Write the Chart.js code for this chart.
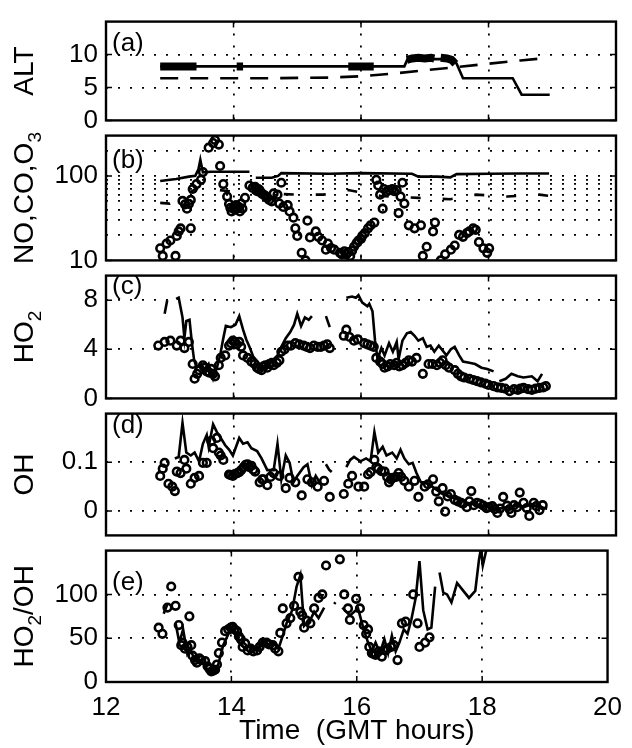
<!DOCTYPE html>
<html>
<head>
<meta charset="utf-8">
<script src="https://cdn.jsdelivr.net/npm/chart.js@4.4.0/dist/chart.umd.min.js"></script>
<style>
body { margin: 0; background: #fff; }
#wrap { position: relative; width: 632px; height: 748px; }
canvas { position: absolute; left: 0; }
</style>
</head>
<body>
<div id="wrap">
  <canvas id="pa"></canvas>
  <canvas id="pb"></canvas>
  <canvas id="pc"></canvas>
  <canvas id="pd"></canvas>
  <canvas id="pe"></canvas>
</div>
<script>
// time axis (GMT hours)
const xTicks = [12, 14, 16, 18, 20];

// (a) altitude, [time, km]
const altSolid = [[12.85, 8.2], [16.68, 8.2], [16.73, 9.3], [17.45, 9.3], [17.5, 8.6], [17.6, 6.4],
  [18.38, 6.4], [18.52, 3.9], [18.96, 3.9]];
const altThick = [[12.85, 8.2], [13.42, 8.2], [null, null], [14.05, 8.2], [14.15, 8.2], [null, null],
  [15.8, 8.2], [16.2, 8.2], [null, null], [16.72, 9.2], [16.8, 9.4], [16.9, 9.5], [17.0, 9.4], [17.1, 9.5],
  [17.15, 9.4], [null, null], [17.25, 9.5], [17.35, 9.4], [17.42, 9.2], [17.48, 8.6]];
const altDashed = [[12.85, 6.4], [13.5, 6.4], [14.5, 6.4], [15.5, 6.5], [16.0, 6.7], [16.5, 7.1],
  [17.0, 7.6], [17.5, 8.1], [18.0, 8.6], [18.5, 9.1], [18.95, 9.5]];
const altTicks = [0, 5, 10];

// (b) NO, CO, O3
const o3Line = [[12.85, 87], [13.1, 92], [13.3, 98], [13.4, 100], [13.45, 120], [13.48, 155], [13.52, 110],
  [13.65, 112], [14.25, 112], [null, null], [14.35, 95], [14.6, 95], [14.7, 100], [14.75, 108], [15.5, 106],
  [16.0, 108], [16.8, 106], [16.9, 98], [17.2, 98], [17.4, 96], [17.5, 105], [18.0, 106], [18.5, 107], [18.95, 107]];
const coLine = [[12.85, 48], [13.0, 47], [13.2, 55], [13.4, 70], [13.5, 72], [14.0, 65], [14.5, 62], [15.0, 60],
  [15.4, 60], [15.6, 62], [15.8, 68], [16.3, 58], [16.9, 55], [17.4, 53], [17.8, 60], [18.3, 57], [18.8, 60], [18.95, 58]];
const noPts = [[12.85, 13.9], [12.89, 11.3], [12.95, 15.8], [13.01, 17.2], [13.09, 11.3], [13.11, 19.5],
  [13.14, 22], [13.17, 23.9], [13.33, 24], [13.2, 50.6], [13.24, 46], [13.27, 41], [13.3, 46.6], [13.33, 52],
  [13.36, 70], [13.42, 80], [13.49, 90], [13.52, 111], [13.61, 216], [13.68, 245], [13.71, 266], [13.77, 235],
  [13.79, 131], [13.84, 80], [13.9, 57], [13.93, 46.6], [13.95, 42], [13.97, 38], [14.0, 43], [14.02, 40],
  [14.04, 45], [14.06, 41], [14.08, 43], [14.1, 38], [14.12, 47], [14.14, 41], [14.18, 55], [14.25, 77],
  [14.3, 72], [14.34, 74], [14.37, 66], [14.39, 70], [14.41, 68], [14.44, 62], [14.47, 60], [14.5, 58],
  [14.53, 55], [14.56, 52], [14.6, 50], [14.63, 62], [14.69, 60], [14.72, 47], [14.75, 83], [14.78, 43],
  [14.85, 45], [14.88, 38], [14.94, 32], [14.97, 24], [15.0, 19.5], [15.07, 12.3], [15.13, 10], [15.16, 29.5],
  [15.2, 18.7], [15.29, 22], [15.33, 19], [15.39, 17.2], [15.45, 13.4], [15.48, 15.8], [15.53, 14], [15.58, 13.4],
  [15.67, 12.3], [15.7, 11.8], [15.74, 12.8], [15.77, 11.8], [15.8, 12.5], [15.83, 11.3], [15.86, 13],
  [15.89, 14.5], [15.93, 16], [15.96, 17.2], [16.0, 18], [16.02, 19.5], [16.06, 21], [16.11, 24], [16.15, 26],
  [16.21, 28], [16.24, 90], [16.27, 77], [16.3, 60], [16.34, 41], [16.36, 70], [16.4, 65], [16.44, 68],
  [16.49, 70], [16.52, 66], [16.56, 68], [16.62, 57], [16.65, 83], [16.68, 47], [16.59, 36.3], [16.75, 26],
  [16.84, 24], [16.94, 26], [16.97, 11.3], [17.03, 14.5], [17.13, 22], [17.16, 28], [17.25, 10], [17.32, 11.8],
  [17.41, 13.4], [17.47, 15], [17.54, 20], [17.6, 19], [17.66, 21], [17.7, 22], [17.76, 24], [17.8, 23],
  [17.85, 16.5], [17.92, 13.9], [17.98, 12.3], [18.01, 13.9]];
const logGridTicks = [10, 20, 30, 40, 50, 60, 70, 80, 90, 100, 200];
const logLabelTicks = [10, 100];

// (c) HO2
const ho2Model = [[12.92, 6.9], [12.96, 8.0], [null, null], [13.1, 8.1], [13.14, 8.2], [13.2, 6.6], [13.23, 4.9],
  [13.26, 6.3], [13.31, 6.4], [13.35, 4.4], [13.38, 3.2], [13.42, 2.5], [13.49, 2.8], [13.55, 2.3], [13.61, 2.8],
  [13.68, 1.6], [13.74, 2.5], [13.79, 3.5], [13.84, 4.9], [13.88, 5.9], [13.96, 5.8], [14.03, 6.0], [14.09, 6.7],
  [14.15, 5.6], [14.2, 4.8], [14.25, 4.2], [14.31, 3.4], [14.41, 2.8], [14.5, 2.5], [14.59, 3.0], [14.69, 3.5],
  [14.75, 4.2], [14.82, 4.9], [14.89, 5.4], [14.95, 6.0], [15.0, 6.9], [15.06, 5.9], [15.12, 6.6], [15.18, 6.4],
  [15.23, 6.7], [null, null], [15.45, 6.7], [15.51, 5.8], [null, null], [15.77, 8.2], [15.86, 8.3], [15.92, 8.2],
  [15.96, 8.4], [16.02, 7.8], [16.1, 7.5], [16.13, 7.7], [16.18, 7.1], [16.22, 4.7], [16.26, 3.2], [16.32, 4.1],
  [16.37, 3.5], [16.44, 4.5], [16.5, 3.8], [16.56, 4.6], [16.59, 3.2], [16.65, 4.7], [16.72, 5.3], [16.78, 5.4],
  [16.84, 5.1], [16.9, 4.7], [16.97, 4.9], [17.03, 4.2], [17.09, 4.3], [17.15, 3.8], [17.22, 4.3], [17.28, 3.9],
  [17.34, 3.5], [17.41, 4.0], [17.47, 4.2], [17.54, 3.5], [17.6, 3.0], [17.7, 2.9], [17.79, 2.8], [17.89, 2.5],
  [17.98, 2.4], [18.08, 2.2], [null, null], [18.17, 1.4], [18.27, 1.6], [18.36, 2.0], [18.46, 1.8], [18.55, 1.7],
  [18.68, 1.8], [18.77, 1.4], [18.84, 2.0]];
const ho2Obs = [[12.82, 4.3], [12.92, 4.6], [13.01, 4.7], [13.11, 4.3], [13.17, 4.7], [13.23, 4.1], [13.3, 4.6],
  [13.36, 2.8], [13.39, 1.6], [13.43, 2.0], [13.46, 2.3], [13.52, 2.7], [13.55, 2.5], [13.58, 2.2], [13.62, 2.1],
  [13.65, 2.4], [13.68, 2.0], [13.71, 1.8], [13.77, 2.7], [13.8, 3.3], [13.87, 3.5], [13.93, 4.3], [13.96, 4.5],
  [13.99, 4.7], [14.02, 4.6], [14.05, 4.4], [14.09, 4.6], [14.12, 4.2], [14.15, 3.5], [14.22, 3.3], [14.28, 3.0],
  [14.33, 2.8], [14.37, 2.5], [14.4, 2.4], [14.44, 2.3], [14.47, 2.6], [14.5, 2.7], [14.53, 2.5], [14.56, 2.8],
  [14.6, 2.9], [14.63, 2.7], [14.68, 2.9], [14.72, 3.1], [14.75, 3.8], [14.8, 4.0], [14.85, 4.3], [14.9, 4.3],
  [14.97, 4.5], [15.03, 4.4], [15.1, 4.3], [15.15, 4.2], [15.2, 4.1], [15.26, 4.3], [15.32, 4.2], [15.37, 4.2],
  [15.42, 4.3], [15.47, 4.4], [15.51, 4.1], [15.73, 5.1], [15.77, 5.6], [15.82, 5.0], [15.89, 4.7], [15.95, 4.8],
  [16.05, 4.5], [16.1, 4.4], [16.15, 4.3], [16.2, 4.2], [16.24, 3.3], [16.3, 3.0], [16.34, 2.8], [16.37, 2.5],
  [16.42, 2.6], [16.46, 2.8], [16.52, 2.7], [16.56, 2.9], [16.6, 2.6], [16.65, 2.7], [16.7, 2.9], [16.75, 3.1],
  [16.8, 3.0], [16.87, 3.3], [16.97, 2.0], [17.06, 2.8], [17.12, 2.8], [17.19, 2.7], [17.24, 2.9], [17.28, 3.1],
  [17.33, 2.7], [17.38, 2.5], [17.47, 2.3], [17.52, 2.0], [17.57, 1.8], [17.62, 1.7], [17.7, 1.6], [17.76, 1.5],
  [17.82, 1.4], [17.88, 1.3], [17.95, 1.2], [18.0, 1.1], [18.08, 1.0], [18.14, 0.9], [18.2, 0.85], [18.26, 0.8],
  [18.33, 0.6], [18.4, 0.75], [18.46, 0.7], [18.5, 0.8], [18.55, 0.85], [18.62, 0.75], [18.68, 0.7], [18.74, 0.8],
  [18.8, 0.85], [18.86, 0.9], [18.9, 1.0]];
const ho2Ticks = [0, 4, 8];

// (d) OH
const ohModel = [[13.08, 0.108], [13.14, 0.111], [13.2, 0.181], [13.26, 0.12], [13.33, 0.114], [13.39, 0.12],
  [13.46, 0.102], [13.52, 0.138], [13.58, 0.156], [13.61, 0.132], [13.68, 0.178], [13.74, 0.162], [13.8, 0.15],
  [13.87, 0.135], [13.93, 0.126], [13.99, 0.114], [14.09, 0.15], [14.15, 0.138], [14.22, 0.141], [14.28, 0.129],
  [14.37, 0.123], [14.44, 0.108], [14.53, 0.084], [14.63, 0.084], [14.69, 0.138], [14.75, 0.065], [14.82, 0.114],
  [14.88, 0.099], [14.94, 0.059], [15.0, 0.072], [15.1, 0.09], [15.16, 0.096], [15.23, 0.053], [15.29, 0.072],
  [15.35, 0.059], [null, null], [15.45, 0.096], [15.5, 0.085], [15.54, 0.08], [null, null], [15.77, 0.09],
  [15.83, 0.105], [15.89, 0.111], [15.99, 0.102], [16.08, 0.108], [16.15, 0.102], [16.21, 0.162], [16.27, 0.12],
  [16.34, 0.132], [16.4, 0.114], [16.49, 0.12], [16.56, 0.108], [16.62, 0.126], [16.68, 0.108], [16.75, 0.096],
  [16.81, 0.099], [16.87, 0.078], [16.94, 0.059], [17.03, 0.059], [17.15, 0.047], [17.28, 0.035], [17.41, 0.029],
  [17.54, 0.023], [17.66, 0.017], [17.79, 0.014], [17.92, 0.011], [18.04, 0.008], [18.17, 0.005], [18.3, 0.008],
  [18.42, 0.011], [18.55, 0.008], [18.68, 0.014], [18.8, 0.008], [18.92, 0.005]];
const ohObs = [[12.85, 0.072], [12.89, 0.087], [12.92, 0.099], [12.98, 0.056], [13.04, 0.05], [13.08, 0.041],
  [13.11, 0.081], [13.17, 0.078], [13.23, 0.105], [13.26, 0.087], [13.33, 0.056], [13.39, 0.068], [13.46, 0.072],
  [13.52, 0.099], [13.58, 0.099], [13.65, 0.144], [13.68, 0.129], [13.74, 0.15], [13.77, 0.12], [13.8, 0.114],
  [13.84, 0.105], [13.93, 0.075], [13.95, 0.074], [13.99, 0.072], [14.02, 0.076], [14.06, 0.078], [14.09, 0.08],
  [14.12, 0.084], [14.16, 0.09], [14.19, 0.095], [14.22, 0.096], [14.25, 0.09], [14.28, 0.093], [14.31, 0.085],
  [14.34, 0.081], [14.41, 0.059], [14.45, 0.065], [14.47, 0.065], [14.53, 0.053], [14.58, 0.07], [14.63, 0.078],
  [14.72, 0.072], [14.82, 0.047], [14.88, 0.068], [14.97, 0.059], [15.07, 0.032], [15.16, 0.065], [15.23, 0.059],
  [15.32, 0.05], [15.42, 0.062], [15.51, 0.029], [15.73, 0.035], [15.8, 0.056], [15.86, 0.072], [15.96, 0.05],
  [16.05, 0.05], [16.11, 0.075], [16.15, 0.08], [16.21, 0.105], [16.24, 0.09], [16.27, 0.087], [16.32, 0.082],
  [16.37, 0.081], [16.41, 0.07], [16.44, 0.059], [16.47, 0.065], [16.5, 0.068], [16.55, 0.07], [16.59, 0.078],
  [16.63, 0.07], [16.68, 0.062], [16.75, 0.05], [16.84, 0.062], [16.9, 0.029], [17.0, 0.05], [17.05, 0.055],
  [17.13, 0.065], [17.18, 0.04], [17.22, 0.02], [17.28, 0.047], [17.32, -0.001], [17.36, 0.03], [17.41, 0.035],
  [17.47, 0.023], [17.52, 0.02], [17.57, 0.017], [17.6, 0.015], [17.66, 0.008], [17.7, 0.02], [17.73, 0.041],
  [17.77, 0.012], [17.82, 0.017], [17.87, 0.015], [17.92, 0.011], [17.97, 0.006], [18.01, 0.008], [18.06, 0.01],
  [18.1, 0.004], [18.14, -0.004], [18.18, 0.005], [18.23, 0.029], [18.29, 0.011], [18.33, 0.004], [18.36, -0.004],
  [18.4, 0.012], [18.45, 0.008], [18.49, 0.038], [18.55, 0.017], [18.6, 0.006], [18.64, -0.01], [18.71, 0.017],
  [18.75, 0.01], [18.8, 0.002], [18.85, 0.012]];
const ohTicks = [0, 0.1];

// (e) HO2/OH
const ratioModel = [[12.92, 78], [12.98, 89], [null, null], [13.11, 67], [13.17, 45], [13.23, 60], [13.3, 31],
  [13.36, 35], [13.42, 24], [13.52, 25], [13.61, 15], [13.71, 11], [13.79, 20], [13.87, 42], [13.96, 56],
  [14.06, 58], [14.12, 45], [14.22, 38], [14.31, 42], [14.41, 35], [14.5, 49], [14.59, 42], [14.69, 44],
  [14.75, 38], [14.82, 53], [14.88, 67], [14.97, 82], [15.04, 109], [15.1, 122], [15.16, 64], [15.26, 71],
  [15.32, 80], [15.39, 73], [15.48, 85], [null, null], [15.64, 89], [15.66, 91], [null, null], [15.77, 85],
  [15.89, 76], [16.02, 84], [16.11, 60], [16.18, 45], [16.24, 35], [16.3, 45], [16.37, 33], [16.44, 49],
  [16.5, 33], [16.56, 53], [16.62, 35], [16.68, 45], [16.75, 60], [16.81, 55], [16.87, 71], [16.94, 96],
  [17.0, 138], [17.06, 82], [17.13, 60], [17.19, 62], [17.25, 109], [null, null], [17.32, 125], [17.38, 102],
  [17.44, 100], [17.51, 91], [17.6, 113], [17.7, 104], [17.79, 96], [17.89, 104], [17.95, 140], [17.98, 152],
  [18.01, 133], [18.08, 155]];
const ratioObs = [[12.84, 62], [12.9, 55], [12.98, 85], [13.04, 109], [13.11, 87], [13.16, 65], [13.2, 42],
  [13.22, 45], [13.26, 38], [13.3, 40], [13.33, 75], [13.36, 42], [13.38, 30], [13.42, 25], [13.45, 22],
  [13.49, 27], [13.52, 25], [13.58, 24], [13.62, 18], [13.65, 15], [13.68, 12], [13.71, 13], [13.74, 14],
  [13.77, 20], [13.8, 33], [13.85, 45], [13.9, 58], [13.95, 60], [13.99, 62], [14.02, 63], [14.05, 60],
  [14.09, 58], [14.12, 52], [14.15, 49], [14.18, 40], [14.22, 44], [14.26, 36], [14.31, 38], [14.35, 35],
  [14.41, 36], [14.45, 40], [14.5, 45], [14.56, 45], [14.6, 43], [14.66, 42], [14.7, 38], [14.75, 35],
  [14.78, 56], [14.82, 84], [14.88, 67], [14.94, 73], [15.0, 87], [15.07, 120], [15.1, 80], [15.13, 76],
  [15.16, 62], [15.2, 70], [15.26, 67], [15.32, 84], [15.39, 96], [15.45, 100], [15.51, 133], [15.73, 140],
  [15.8, 100], [15.86, 84], [15.89, 71], [15.99, 95], [16.05, 84], [16.11, 65], [16.15, 55], [16.18, 60],
  [16.2, 40], [16.24, 33], [16.27, 32], [16.3, 31], [16.35, 35], [16.4, 29], [16.45, 36], [16.49, 38],
  [16.55, 40], [16.59, 42], [16.65, 25], [16.72, 67], [16.78, 69], [16.9, 100], [16.97, 67], [17.0, 40],
  [17.09, 45], [17.16, 51]];
const ratioTicks = [0, 50, 100];

const FONT = '"Liberation Sans", Arial, Helvetica, sans-serif';
Chart.defaults.font.family = FONT;
Chart.defaults.font.size = 26;
Chart.defaults.color = '#000';

function pts(list) {
  return list.map(p => ({x: p[0], y: p[1]}));
}

function lineSet(list, width, dash) {
  return {data: pts(list), borderColor: '#000', borderWidth: width, borderDash: dash || [],
    pointRadius: 0, showLine: true, spanGaps: false, tension: 0, borderCapStyle: 'butt'};
}

function circleSet(list) {
  return {data: pts(list), showLine: false, pointStyle: 'circle', pointRadius: 3.8,
    pointBorderWidth: 2.6, pointBorderColor: '#000', pointBackgroundColor: 'rgba(0,0,0,0)'};
}

// frame, inward ticks, panel letter and y label with subscripts
const framePlugin = {
  id: 'frame',
  afterDraw(chart, args, opts) {
    const ctx = chart.ctx, a = chart.chartArea;
    const xs = chart.scales.x, ys = chart.scales.y;
    ctx.save();
    ctx.strokeStyle = '#000';
    ctx.lineWidth = 1.5;
    ctx.beginPath();
    xTicks.slice(1, -1).forEach(v => {
      const px = xs.getPixelForValue(v);
      ctx.moveTo(px, a.top); ctx.lineTo(px, a.top + 6);
      ctx.moveTo(px, a.bottom); ctx.lineTo(px, a.bottom - 6);
    });
    opts.yTicks.forEach(v => {
      const py = ys.getPixelForValue(v);
      ctx.moveTo(a.left, py); ctx.lineTo(a.left + 6, py);
      ctx.moveTo(a.right, py); ctx.lineTo(a.right - 6, py);
    });
    ctx.stroke();
    ctx.lineWidth = 2.4;
    ctx.strokeRect(a.left, a.top, a.right - a.left, a.bottom - a.top);

    ctx.fillStyle = '#000';
    ctx.font = '26px ' + FONT;
    ctx.textBaseline = 'middle';
    ctx.textAlign = 'left';
    ctx.fillText(opts.letter, a.left + 6, a.top + opts.letterDy);

    // rotated y label
    const parts = opts.title;
    ctx.translate(25, (a.top + a.bottom) / 2);
    ctx.rotate(-Math.PI / 2);
    let w = 0;
    parts.forEach(p => {
      ctx.font = (p.sub ? '19px ' : '28px ') + FONT;
      w += ctx.measureText(p.t).width;
    });
    let x = -w / 2;
    parts.forEach(p => {
      ctx.font = (p.sub ? '19px ' : '28px ') + FONT;
      ctx.fillText(p.t, x, p.sub ? 11 : 0);
      x += ctx.measureText(p.t).width;
    });
    ctx.restore();
  }
};

function gridColor(min, max) {
  return c => (c.tick && (c.tick.value <= min || c.tick.value >= max)) ? 'rgba(0,0,0,0)' : '#000';
}

function makePanel(id, top, bottom, y, datasets, plot) {
  const last = plot.last;
  const cTop = top - 16;
  const cBottom = last ? 748 : bottom + 16;
  const el = document.getElementById(id);
  el.style.top = cTop + 'px';
  el.width = 632;
  el.height = cBottom - cTop;
  return new Chart(el, {
    type: 'line',
    data: {datasets: datasets},
    plugins: [framePlugin],
    options: {
      responsive: false,
      animation: false,
      devicePixelRatio: 1,
      layout: {padding: {top: 16, bottom: last ? 0 : 16, left: 0, right: 16}},
      plugins: {legend: {display: false}, tooltip: {enabled: false},
        frame: {yTicks: y.ticks, letter: plot.letter, letterDy: plot.letterDy, title: plot.title}},
      scales: {
        x: {
          type: 'linear', min: 12, max: 20,
          afterBuildTicks: s => { s.ticks = xTicks.map(v => ({value: v})); },
          afterFit: s => { s.height = last ? 66 : 0; },
          grid: {drawTicks: false, lineWidth: 1.8, color: gridColor(12, 20)},
          border: {display: false, dash: [2, 10]},
          ticks: {display: !!last, padding: 10, autoSkip: false, maxRotation: 0},
          title: {display: !!last, text: 'Time  (GMT hours)', font: {size: 28}, padding: {top: 0, bottom: 0}}
        },
        y: {
          type: y.type || 'linear', min: y.min, max: y.max,
          afterBuildTicks: s => { s.ticks = (y.grid || y.ticks).map(v => ({value: v})); },
          afterFit: s => { s.width = 106; },
          grid: {drawTicks: false, lineWidth: 1.8, color: gridColor(y.min, y.max)},
          border: {display: false, dash: [2, 10]},
          ticks: {padding: 8, autoSkip: false,
            callback: v => y.ticks.indexOf(v) >= 0 ? String(v) : ''}
        }
      }
    }
  });
}

makePanel('pa', 14, 128, {min: 0, max: 15, ticks: altTicks}, [
  lineSet(altSolid, 2.6),
  lineSet(altThick, 8),
  lineSet(altDashed, 2.6, [18, 12])
], {letter: '(a)', letterDy: 22, title: [{t: 'ALT'}]});

makePanel('pb', 128, 268, {type: 'logarithmic', min: 10, max: 300, ticks: logLabelTicks, grid: logGridTicks}, [
  lineSet(o3Line, 2.6),
  lineSet(coLine, 2.6, [10, 22]),
  circleSet(noPts)
], {letter: '(b)', letterDy: 25, title: [{t: 'NO,CO,O'}, {t: '3', sub: true}]});

makePanel('pc', 268, 406, {min: 0, max: 10, ticks: ho2Ticks}, [
  lineSet(ho2Model, 2.6),
  circleSet(ho2Obs)
], {letter: '(c)', letterDy: 11, title: [{t: 'HO'}, {t: '2', sub: true}]});

makePanel('pd', 406, 543, {min: -0.05, max: 0.2, ticks: ohTicks}, [
  lineSet(ohModel, 2.6),
  circleSet(ohObs)
], {letter: '(d)', letterDy: 12, title: [{t: 'OH'}]});

makePanel('pe', 543, 682, {min: 0, max: 150, ticks: ratioTicks}, [
  lineSet(ratioModel, 2.6),
  circleSet(ratioObs)
], {letter: '(e)', letterDy: 32, title: [{t: 'HO'}, {t: '2', sub: true}, {t: '/OH'}], last: true});
</script>
</body>
</html>
